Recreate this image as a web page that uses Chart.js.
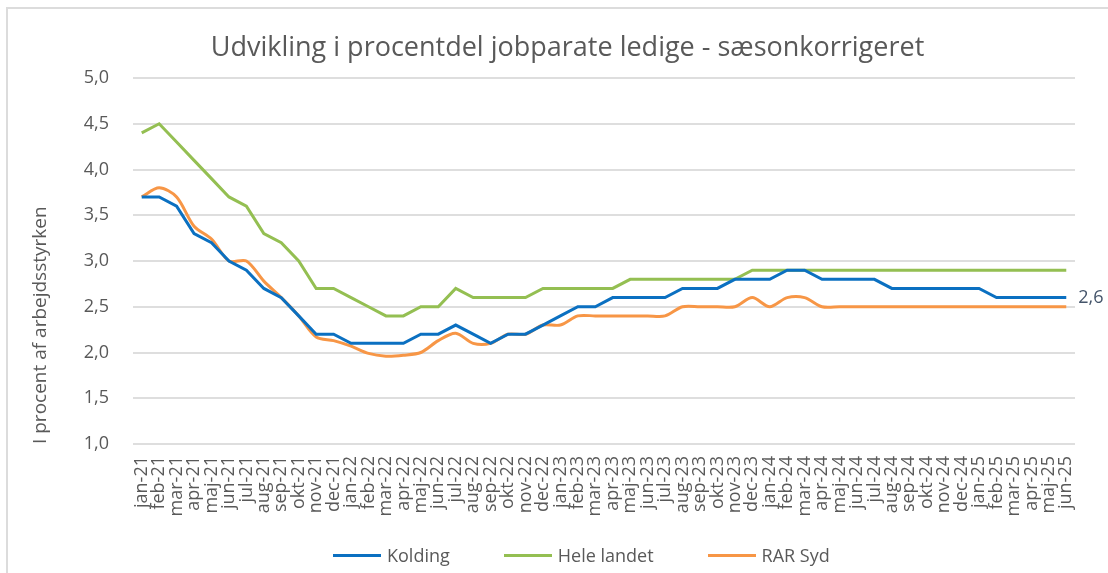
<!DOCTYPE html>
<html lang="da">
<head>
  <meta charset="UTF-8">
  <title>Udvikling i procentdel jobparate ledige</title>
  <script src="https://cdn.jsdelivr.net/npm/chart.js"></script>
  <style>
    body {
      margin: 0;
      width: 1108px;
      height: 573px;
      overflow: hidden;
      background: #ffffff;
      font-family: "Open Sans", sans-serif;
      position: relative;
    }
    .frame {
      position: absolute;
      left: 6px;
      top: 7px;
      width: 1300px;
      height: 800px;
      border-left: 2px solid #dcdcdc;
      border-top: 2px solid #dcdcdc;
    }
    #chartBox {
      position: absolute;
      left: 0;
      top: 0;
      width: 1108px;
      height: 573px;
    }
    .title {
      position: absolute;
      left: 0;
      top: 32px;
      width: 1135px;
      text-align: center;
      font-size: 27px;
      line-height: 27px;
      color: #595959;
      white-space: nowrap;
    }
    .legend {
      position: absolute;
      left: 333px;
      top: 543px;
      display: flex;
      align-items: center;
      font-size: 18px;
      color: #595959;
    }
    .legend .item {
      display: flex;
      align-items: center;
      margin-right: 54px;
    }
    .legend .swatch {
      width: 48px;
      height: 3px;
      margin-right: 6px;
    }
  </style>
</head>
<body>
  <div class="frame"></div>
  <div id="chartBox">
    <canvas id="jobChart" width="1108" height="573"></canvas>
  </div>
  <div class="title" id="title"></div>
  <div class="legend" id="legend"></div>

  <script>
    const chartTitle = 'Udvikling i procentdel jobparate ledige - sæsonkorrigeret';

    // Month labels
    const months = [
      'jan-21', 'feb-21', 'mar-21', 'apr-21', 'maj-21', 'jun-21', 'jul-21', 'aug-21', 'sep-21', 'okt-21', 'nov-21', 'dec-21',
      'jan-22', 'feb-22', 'mar-22', 'apr-22', 'maj-22', 'jun-22', 'jul-22', 'aug-22', 'sep-22', 'okt-22', 'nov-22', 'dec-22',
      'jan-23', 'feb-23', 'mar-23', 'apr-23', 'maj-23', 'jun-23', 'jul-23', 'aug-23', 'sep-23', 'okt-23', 'nov-23', 'dec-23',
      'jan-24', 'feb-24', 'mar-24', 'apr-24', 'maj-24', 'jun-24', 'jul-24', 'aug-24', 'sep-24', 'okt-24', 'nov-24', 'dec-24',
      'jan-25', 'feb-25', 'mar-25', 'apr-25', 'maj-25', 'jun-25'
    ];

    // Series values (% of the labour force)
    const kolding = [
      3.7, 3.7, 3.6, 3.3, 3.2, 3.0, 2.9, 2.7, 2.6, 2.4, 2.2, 2.2,
      2.1, 2.1, 2.1, 2.1, 2.2, 2.2, 2.3, 2.2, 2.1, 2.2, 2.2, 2.3,
      2.4, 2.5, 2.5, 2.6, 2.6, 2.6, 2.6, 2.7, 2.7, 2.7, 2.8, 2.8,
      2.8, 2.9, 2.9, 2.8, 2.8, 2.8, 2.8, 2.7, 2.7, 2.7, 2.7, 2.7,
      2.7, 2.6, 2.6, 2.6, 2.6, 2.6
    ];
    const heleLandet = [
      4.4, 4.5, 4.3, 4.1, 3.9, 3.7, 3.6, 3.3, 3.2, 3.0, 2.7, 2.7,
      2.6, 2.5, 2.4, 2.4, 2.5, 2.5, 2.7, 2.6, 2.6, 2.6, 2.6, 2.7,
      2.7, 2.7, 2.7, 2.7, 2.8, 2.8, 2.8, 2.8, 2.8, 2.8, 2.8, 2.9,
      2.9, 2.9, 2.9, 2.9, 2.9, 2.9, 2.9, 2.9, 2.9, 2.9, 2.9, 2.9,
      2.9, 2.9, 2.9, 2.9, 2.9, 2.9
    ];
    const rarSyd = [
      3.7, 3.8, 3.7, 3.38, 3.24, 3.0, 3.0, 2.78, 2.6, 2.4, 2.17, 2.13,
      2.07, 1.99, 1.96, 1.97, 2.0, 2.13, 2.21, 2.1, 2.1, 2.2, 2.2, 2.3,
      2.3, 2.4, 2.4, 2.4, 2.4, 2.4, 2.4, 2.5, 2.5, 2.5, 2.5, 2.6,
      2.5, 2.6, 2.6, 2.5, 2.5, 2.5, 2.5, 2.5, 2.5, 2.5, 2.5, 2.5,
      2.5, 2.5, 2.5, 2.5, 2.5, 2.5
    ];

    const seriesNames = ['Kolding', 'Hele landet', 'RAR Syd'];
    const seriesColors = ['#0b70c1', '#94bf52', '#f79646'];

    const textColor = '#595959';
    const fontFamily = '"Open Sans", sans-serif';

    // Value label at the end of the Kolding line
    const endLabel = {
      id: 'endLabel',
      afterDatasetsDraw(chart) {
        const meta = chart.getDatasetMeta(0);
        const last = meta.data[meta.data.length - 1];
        const value = kolding[kolding.length - 1];
        const ctx = chart.ctx;
        ctx.save();
        ctx.font = '18px ' + fontFamily;
        ctx.fillStyle = '#44546a';
        ctx.textAlign = 'left';
        ctx.textBaseline = 'middle';
        ctx.fillText(value.toFixed(1).replace('.', ','), last.x + 12, last.y);
        ctx.restore();
      }
    };

    document.getElementById('title').textContent = chartTitle;

    const ctx = document.getElementById('jobChart').getContext('2d');
    const jobChart = new Chart(ctx, {
      type: 'line',
      data: {
        labels: months,
        datasets: [
          {
            label: seriesNames[0],
            data: kolding,
            borderColor: seriesColors[0],
            backgroundColor: seriesColors[0],
            borderWidth: 3,
            pointRadius: 0,
            tension: 0
          },
          {
            label: seriesNames[1],
            data: heleLandet,
            borderColor: seriesColors[1],
            backgroundColor: seriesColors[1],
            borderWidth: 3,
            pointRadius: 0,
            tension: 0
          },
          {
            label: seriesNames[2],
            data: rarSyd,
            borderColor: seriesColors[2],
            backgroundColor: seriesColors[2],
            borderWidth: 3,
            pointRadius: 0,
            tension: 0.3
          }
        ]
      },
      options: {
        responsive: false,
        animation: false,
        layout: {
          padding: { left: 10, right: 33, top: 78, bottom: 0 }
        },
        plugins: {
          legend: { display: false },
          tooltip: { enabled: false },
          title: { display: false }
        },
        scales: {
          x: {
            offset: true,
            grid: { display: false, drawTicks: false },
            border: { display: false },
            ticks: {
              autoSkip: false,
              maxRotation: 90,
              minRotation: 90,
              padding: 12,
              color: textColor,
              font: { family: fontFamily, size: 18 }
            },
            afterFit(scale) { scale.height = 129; }
          },
          y: {
            min: 1,
            max: 5,
            grid: { color: '#dedede', lineWidth: 2, drawTicks: false },
            border: { display: false },
            ticks: {
              stepSize: 0.5,
              padding: 24,
              color: textColor,
              font: { family: fontFamily, size: 18 },
              callback: v => v.toFixed(1).replace('.', ',')
            },
            title: {
              display: true,
              text: 'I procent af arbejdsstyrken',
              align: 'start',
              color: textColor,
              font: { family: fontFamily, size: 19 },
              padding: { top: 19, bottom: 0 }
            },
            afterFit(scale) { scale.width = 123; }
          }
        }
      },
      plugins: [endLabel]
    });

    // Legend below the chart
    const legendEl = document.getElementById('legend');
    seriesNames.forEach((name, i) => {
      const item = document.createElement('div');
      item.className = 'item';
      const swatch = document.createElement('span');
      swatch.className = 'swatch';
      swatch.style.background = seriesColors[i];
      const label = document.createElement('span');
      label.textContent = name;
      item.appendChild(swatch);
      item.appendChild(label);
      legendEl.appendChild(item);
    });
  </script>
</body>
</html>
